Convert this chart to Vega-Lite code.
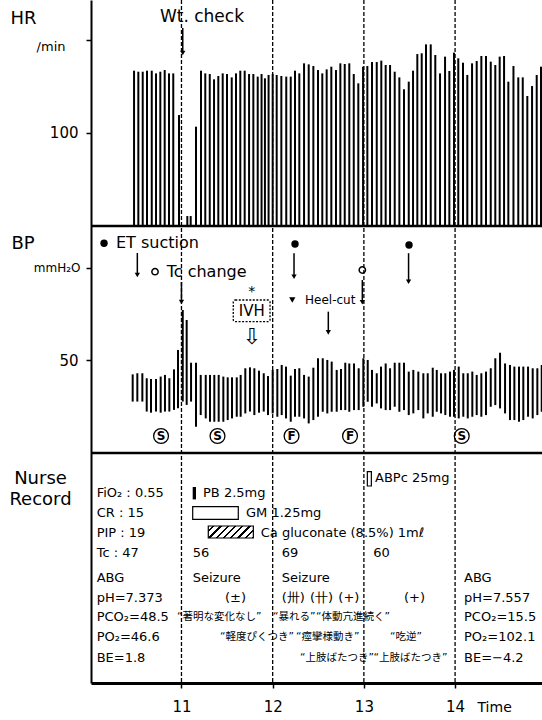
{
"$schema":"https://vega.github.io/schema/vega-lite/v6.json",
"width":451,"height":683,
"autosize":"none",
"padding":{"left":91,"top":0,"right":0,"bottom":37},
"background":"white",
"config":{"view":{"stroke":null},
 "axis":{"grid":false,"domainColor":"black","tickColor":"black","labelColor":"black","titleColor":"black","labelFont":"DejaVu Sans","titleFont":"DejaVu Sans","titleFontWeight":"normal"},
 "text":{"font":"DejaVu Sans","color":"black"},
 "rule":{"color":"black"},"point":{"color":"black"}},
"datasets":{
 "hours":[{"t":11},{"t":12},{"t":13},{"t":14}],
 "sep":[{"t":10.008,"t2":14.953,"v":0}],
 "hr":[{"t":10.480,"v":167.0},{"t":10.527,"v":165.9},{"t":10.575,"v":165.9},{"t":10.622,"v":167.0},{"t":10.674,"v":167.0},{"t":10.721,"v":164.1},{"t":10.768,"v":165.9},{"t":10.816,"v":167.7},{"t":10.863,"v":164.1},{"t":10.910,"v":164.1},{"t":10.973,"v":119.3},{"t":11.064,"v":10.7},{"t":11.101,"v":10.7},{"t":11.159,"v":106.8},{"t":11.214,"v":167.0},{"t":11.261,"v":164.1},{"t":11.310,"v":163.4},{"t":11.357,"v":157.7},{"t":11.404,"v":161.3},{"t":11.452,"v":164.1},{"t":11.499,"v":163.4},{"t":11.551,"v":159.8},{"t":11.598,"v":164.1},{"t":11.645,"v":167.0},{"t":11.693,"v":167.0},{"t":11.741,"v":163.4},{"t":11.788,"v":163.4},{"t":11.836,"v":160.6},{"t":11.878,"v":163.4},{"t":11.915,"v":158.8},{"t":11.955,"v":162.4},{"t":12.000,"v":163.4},{"t":12.044,"v":162.4},{"t":12.095,"v":161.3},{"t":12.149,"v":160.6},{"t":12.198,"v":160.6},{"t":12.245,"v":167.0},{"t":12.292,"v":164.1},{"t":12.344,"v":174.9},{"t":12.395,"v":173.8},{"t":12.446,"v":172.0},{"t":12.497,"v":167.7},{"t":12.544,"v":164.1},{"t":12.592,"v":168.4},{"t":12.643,"v":171.3},{"t":12.694,"v":167.7},{"t":12.742,"v":174.9},{"t":12.790,"v":174.2},{"t":12.840,"v":174.9},{"t":12.889,"v":163.4},{"t":12.939,"v":153.4},{"t":12.991,"v":171.3},{"t":13.038,"v":172.0},{"t":13.089,"v":176.3},{"t":13.141,"v":176.3},{"t":13.191,"v":177.8},{"t":13.239,"v":173.1},{"t":13.287,"v":173.1},{"t":13.338,"v":165.9},{"t":13.389,"v":159.8},{"t":13.440,"v":147.0},{"t":13.492,"v":155.2},{"t":13.539,"v":167.0},{"t":13.586,"v":184.9},{"t":13.634,"v":185.7},{"t":13.681,"v":195.3},{"t":13.733,"v":195.3},{"t":13.783,"v":183.9},{"t":13.835,"v":164.1},{"t":13.890,"v":182.1},{"t":13.937,"v":166.7},{"t":13.988,"v":186.4},{"t":14.035,"v":180.3},{"t":14.087,"v":175.6},{"t":14.134,"v":162.4},{"t":14.186,"v":174.9},{"t":14.237,"v":177.4},{"t":14.288,"v":182.8},{"t":14.339,"v":182.8},{"t":14.391,"v":176.7},{"t":14.441,"v":173.1},{"t":14.489,"v":182.1},{"t":14.537,"v":182.8},{"t":14.584,"v":155.2},{"t":14.640,"v":172.0},{"t":14.693,"v":159.8},{"t":14.742,"v":159.8},{"t":14.792,"v":139.8},{"t":14.844,"v":150.5},{"t":14.895,"v":162.4},{"t":14.942,"v":171.3}],
 "hrNotes":[{"t":11.225,"v":225,"label":"Wt. check"}],
 "hrArrows":[{"t":11.014,"v":212.9,"v2":186}],
 "hrHeads":[{"t":11.014,"v":186}],
 "bp":[{"t":10.465,"v":42.5,"v2":27.8},{"t":10.516,"v":43.1,"v2":27.8},{"t":10.571,"v":43.1,"v2":27.8},{"t":10.619,"v":40.4,"v2":22.4},{"t":10.666,"v":40.0,"v2":21.8},{"t":10.721,"v":40.0,"v2":22.4},{"t":10.772,"v":41.3,"v2":21.8},{"t":10.819,"v":42.2,"v2":22.4},{"t":10.867,"v":40.4,"v2":22.4},{"t":10.918,"v":45.2,"v2":23.3},{"t":10.962,"v":55.7,"v2":24.2},{"t":11.014,"v":77.3,"v2":27.8},{"t":11.057,"v":71.9,"v2":26.0},{"t":11.105,"v":48.8,"v2":27.8},{"t":11.159,"v":48.8,"v2":14.2},{"t":11.211,"v":42.2,"v2":20.5},{"t":11.266,"v":42.2,"v2":18.7},{"t":11.313,"v":42.2,"v2":16.9},{"t":11.360,"v":42.2,"v2":16.9},{"t":11.408,"v":42.2,"v2":16.9},{"t":11.459,"v":41.3,"v2":16.9},{"t":11.507,"v":40.9,"v2":17.8},{"t":11.554,"v":40.9,"v2":18.7},{"t":11.606,"v":40.9,"v2":19.6},{"t":11.649,"v":42.2,"v2":19.6},{"t":11.700,"v":45.8,"v2":21.4},{"t":11.751,"v":46.3,"v2":22.4},{"t":11.799,"v":45.8,"v2":20.5},{"t":11.850,"v":44.5,"v2":21.8},{"t":11.902,"v":43.1,"v2":22.4},{"t":11.949,"v":41.6,"v2":20.5},{"t":12.000,"v":44.9,"v2":21.4},{"t":12.051,"v":45.4,"v2":19.6},{"t":12.099,"v":47.6,"v2":20.5},{"t":12.146,"v":46.7,"v2":18.7},{"t":12.198,"v":41.8,"v2":16.9},{"t":12.245,"v":45.4,"v2":19.6},{"t":12.292,"v":45.8,"v2":19.6},{"t":12.344,"v":42.2,"v2":18.7},{"t":12.395,"v":41.3,"v2":16.0},{"t":12.446,"v":46.1,"v2":17.8},{"t":12.497,"v":51.2,"v2":19.6},{"t":12.549,"v":51.2,"v2":22.3},{"t":12.599,"v":50.3,"v2":21.4},{"t":12.647,"v":49.4,"v2":22.3},{"t":12.702,"v":44.9,"v2":22.3},{"t":12.749,"v":45.4,"v2":23.2},{"t":12.796,"v":48.8,"v2":23.2},{"t":12.840,"v":48.4,"v2":22.3},{"t":12.892,"v":48.4,"v2":23.2},{"t":12.943,"v":45.8,"v2":23.2},{"t":12.994,"v":51.2,"v2":25.0},{"t":13.042,"v":50.3,"v2":27.7},{"t":13.089,"v":44.9,"v2":25.0},{"t":13.141,"v":43.1,"v2":26.8},{"t":13.188,"v":46.7,"v2":24.1},{"t":13.239,"v":48.4,"v2":23.2},{"t":13.287,"v":45.8,"v2":23.2},{"t":13.338,"v":48.8,"v2":25.0},{"t":13.389,"v":48.8,"v2":22.3},{"t":13.440,"v":48.8,"v2":23.2},{"t":13.492,"v":44.0,"v2":20.5},{"t":13.542,"v":44.9,"v2":21.4},{"t":13.597,"v":44.0,"v2":23.2},{"t":13.652,"v":43.1,"v2":18.7},{"t":13.700,"v":43.1,"v2":21.4},{"t":13.755,"v":46.1,"v2":19.6},{"t":13.799,"v":44.9,"v2":22.3},{"t":13.846,"v":43.1,"v2":21.4},{"t":13.893,"v":43.1,"v2":20.5},{"t":13.944,"v":44.0,"v2":19.6},{"t":13.988,"v":44.9,"v2":19.6},{"t":14.040,"v":46.7,"v2":18.7},{"t":14.090,"v":43.1,"v2":19.6},{"t":14.139,"v":43.1,"v2":18.7},{"t":14.189,"v":44.0,"v2":19.6},{"t":14.237,"v":42.2,"v2":20.5},{"t":14.288,"v":43.1,"v2":19.6},{"t":14.339,"v":44.0,"v2":20.5},{"t":14.391,"v":45.8,"v2":25.0},{"t":14.441,"v":51.2,"v2":25.9},{"t":14.493,"v":54.2,"v2":24.1},{"t":14.548,"v":48.4,"v2":21.4},{"t":14.602,"v":47.6,"v2":17.8},{"t":14.650,"v":46.7,"v2":17.8},{"t":14.701,"v":46.7,"v2":16.9},{"t":14.748,"v":46.7,"v2":17.8},{"t":14.800,"v":46.7,"v2":19.6},{"t":14.851,"v":45.8,"v2":18.7},{"t":14.902,"v":45.8,"v2":20.5},{"t":14.950,"v":47.6,"v2":22.3}],
 "bpLabels":[{"t":10.282,"v":113.4,"label":"ET suction"},{"t":10.838,"v":98.0,"label":"Tc change"}],
 "bpSmall":[{"t":12.355,"v":82.7,"label":"Heel-cut"}],
 "ivh":[{"t":11.77,"v":76.8,"label":"IVH"}],
 "star":[{"t":11.77,"v":87.2,"label":"*"}],
 "hollowArrow":[{"t":11.77,"v":62.7,"label":"⇩"}],
 "ivhBox":[{"t":11.568,"t2":11.971,"v":82.7,"v2":71.0}],
 "bpDots":[{"t":10.151,"v":113.4},{"t":12.245,"v":113.0},{"t":13.495,"v":112.4}],
 "bpOpen":[{"t":10.710,"v":98.0},{"t":12.983,"v":98.9}],
 "bpTri":[{"t":12.215,"v":82.7}],
 "bpArrows":[{"t":10.516,"v":108.1,"v2":96.2},{"t":11.0,"v":92.4,"v2":81.6},{"t":12.234,"v":108,"v2":95.3},{"t":12.61,"v":76.4,"v2":65.2},{"t":12.983,"v":93.5,"v2":81.5},{"t":13.49,"v":108,"v2":92.6}],
 "bpHeads":[{"t":10.516,"v":96.2},{"t":11.0,"v":81.6},{"t":12.234,"v":95.3},{"t":12.61,"v":65.2},{"t":12.983,"v":81.5},{"t":13.49,"v":92.6}],
 "circled":[{"t":10.776,"v":9.2,"letter":"S"},{"t":11.395,"v":9.2,"letter":"S"},{"t":12.207,"v":9.2,"letter":"F"},{"t":12.848,"v":9.2,"letter":"F"},{"t":14.073,"v":9.2,"letter":"S"}],
 "nurseText":[
  {"t":10.070,"v":1,"label":"FiO₂ : 0.55"},
  {"t":10.070,"v":2,"label":"CR : 15"},
  {"t":10.070,"v":3,"label":"PIP : 19"},
  {"t":10.070,"v":4,"label":"Tc : 47"},
  {"t":10.070,"v":5.25,"label":"ABG"},
  {"t":10.070,"v":6.25,"label":"pH=7.373"},
  {"t":10.070,"v":7.2,"label":"PCO₂=48.5"},
  {"t":10.070,"v":8.2,"label":"PO₂=46.6"},
  {"t":10.070,"v":9.25,"label":"BE=1.8"},
  {"t":11.236,"v":1,"label":"PB 2.5mg"},
  {"t":11.708,"v":2,"label":"GM 1.25mg"},
  {"t":11.869,"v":3,"label":"Ca gluconate (8.5%) 1mℓ"},
  {"t":11.123,"v":4,"label":"56"},
  {"t":11.123,"v":5.25,"label":"Seizure"},
  {"t":11.477,"v":6.25,"label":"(±)"},
  {"t":12.099,"v":4,"label":"69"},
  {"t":12.099,"v":5.25,"label":"Seizure"},
  {"t":12.099,"v":6.25,"label":"(卅)"},
  {"t":12.409,"v":6.25,"label":"(卄)"},
  {"t":12.720,"v":6.25,"label":"(+)"},
  {"t":13.440,"v":6.25,"label":"(+)"},
  {"t":13.122,"v":0.25,"label":"ABPc 25mg"},
  {"t":13.103,"v":4,"label":"60"},
  {"t":14.098,"v":5.25,"label":"ABG"},
  {"t":14.098,"v":6.25,"label":"pH=7.557"},
  {"t":14.098,"v":7.2,"label":"PCO₂=15.5"},
  {"t":14.098,"v":8.2,"label":"PO₂=102.1"},
  {"t":14.098,"v":9.25,"label":"BE=−4.2"}],
 "nurseJa":[
  {"t":10.951,"v":7.2,"label":"“著明な変化なし”"},
  {"t":12.004,"v":7.2,"label":"“暴れる”"},
  {"t":12.475,"v":7.2,"label":"“体動亢進続く”"},
  {"t":11.422,"v":8.2,"label":"“軽度ぴくつき”"},
  {"t":12.256,"v":8.2,"label":"“痙攣様動き”"},
  {"t":13.287,"v":8.2,"label":"“吃逆”"},
  {"t":12.300,"v":9.25,"label":"“上肢ばたつき”"},
  {"t":13.105,"v":9.25,"label":"“上肢ばたつき”"}],
 "drugFilled":[{"t":11.123,"t2":11.159,"v":0.7,"v2":1.32}],
 "drugOpen":[{"t":11.123,"t2":11.623,"v":1.68,"v2":2.32},{"t":13.038,"t2":13.082,"v":-0.07,"v2":0.65}],
 "drugHatch":[{"t":11.294,"t2":11.788,"v":2.65,"v2":3.25}]
},
"encoding":{"x":{"field":"t","type":"quantitative","title":"Time","scale":{"domain":[10.008,14.953],"nice":false,"zero":false},
 "axis":{"orient":"bottom","values":[11,12,13,14],"domainWidth":3,"tickSize":5,"tickWidth":1.5,"labelFontSize":15,"labelPadding":18,"labelBaseline":"middle","labelFlush":false,"titleX":386,"titleY":24,"titleAlign":"left","titleBaseline":"middle","titleFontSize":14}}},
"layer":[
 {"data":{"name":"hours"},"mark":{"type":"rule","strokeDash":[4,2],"strokeWidth":1.3},"encoding":{}},
 {"encoding":{"y":{"field":"v","type":"quantitative","scale":{"domain":[0,243],"range":[226,0],"nice":false,"zero":false},
   "axis":{"orient":"left","values":[100,200],"title":"HR","titleAngle":0,"titleAlign":"left","titleBaseline":"middle","titleX":-81,"titleY":18,"titleFontSize":18,"domainWidth":2,"tickSize":5,"tickWidth":1.5,
    "labelExpr":"datum.value == 200 ? '/min' : datum.label","labelBaseline":"middle",
    "labelFontSize":{"condition":{"test":"datum.value == 200","value":13},"value":15},
    "labelPadding":{"condition":{"test":"datum.value == 200","value":21},"value":8},
    "labelOffset":{"condition":{"test":"datum.value == 200","value":7},"value":0}}}},
  "layer":[
   {"data":{"name":"hr"},"mark":{"type":"rule","strokeWidth":2},"encoding":{"y2":{"datum":0}}},
   {"data":{"name":"hrNotes"},"mark":{"type":"text","fontSize":17,"align":"center","baseline":"middle"},"encoding":{"text":{"field":"label"}}},
   {"data":{"name":"hrArrows"},"mark":{"type":"rule","strokeWidth":1.5},"encoding":{"y2":{"field":"v2"}}},
   {"data":{"name":"hrHeads"},"mark":{"type":"point","shape":"triangle-down","filled":true,"size":28,"opacity":1}},
   {"data":{"name":"sep"},"mark":{"type":"rule","strokeWidth":2.5},"encoding":{"x2":{"field":"t2"}}}
  ]},
 {"encoding":{"y":{"field":"v","type":"quantitative","scale":{"domain":[0,122.7],"range":[453,226],"nice":false,"zero":false},
   "axis":{"orient":"left","values":[50,100],"title":"BP","titleAngle":0,"titleAlign":"left","titleBaseline":"middle","titleX":-80,"titleY":243,"titleFontSize":18,"domainWidth":2,"tickSize":5,"tickWidth":1.5,
    "labelExpr":"datum.value == 100 ? 'mmH₂O' : datum.label","labelBaseline":"middle",
    "labelFontSize":{"condition":{"test":"datum.value == 100","value":12},"value":15},
    "labelPadding":{"condition":{"test":"datum.value == 100","value":6},"value":8}}}},
  "layer":[
   {"data":{"name":"bp"},"mark":{"type":"rule","strokeWidth":2},"encoding":{"y2":{"field":"v2"}}},
   {"data":{"name":"bpArrows"},"mark":{"type":"rule","strokeWidth":1.5},"encoding":{"y2":{"field":"v2"}}},
   {"data":{"name":"bpHeads"},"mark":{"type":"point","shape":"triangle-down","filled":true,"size":28,"opacity":1}},
   {"data":{"name":"bpDots"},"mark":{"type":"point","shape":"circle","filled":true,"size":55,"opacity":1}},
   {"data":{"name":"bpOpen"},"mark":{"type":"point","shape":"circle","filled":false,"size":40,"strokeWidth":1.5,"opacity":1}},
   {"data":{"name":"bpTri"},"mark":{"type":"point","shape":"triangle-down","filled":true,"size":40,"opacity":1}},
   {"data":{"name":"bpLabels"},"mark":{"type":"text","fontSize":16,"align":"left","baseline":"middle"},"encoding":{"text":{"field":"label"}}},
   {"data":{"name":"bpSmall"},"mark":{"type":"text","fontSize":12,"align":"left","baseline":"middle"},"encoding":{"text":{"field":"label"}}},
   {"data":{"name":"ivhBox"},"mark":{"type":"rect","fill":"white","stroke":"black","strokeWidth":1.3,"strokeDash":[2,1.5],"cornerRadius":2},"encoding":{"x2":{"field":"t2"},"y2":{"field":"v2"}}},
   {"data":{"name":"ivh"},"mark":{"type":"text","fontSize":15,"align":"center","baseline":"middle"},"encoding":{"text":{"field":"label"}}},
   {"data":{"name":"star"},"mark":{"type":"text","fontSize":14,"align":"center","baseline":"middle"},"encoding":{"text":{"field":"label"}}},
   {"data":{"name":"hollowArrow"},"mark":{"type":"text","fontSize":22,"align":"center","baseline":"middle"},"encoding":{"text":{"field":"label"}}},
   {"data":{"name":"circled"},"mark":{"type":"point","shape":"circle","filled":false,"size":220,"strokeWidth":1.3,"opacity":1}},
   {"data":{"name":"circled"},"mark":{"type":"text","fontSize":12,"fontWeight":"bold","align":"center","baseline":"middle"},"encoding":{"text":{"field":"letter"}}},
   {"data":{"name":"sep"},"mark":{"type":"rule","strokeWidth":2.5},"encoding":{"x2":{"field":"t2"}}}
  ]},
 {"encoding":{"y":{"field":"v","type":"quantitative","scale":{"domain":[-1,10.5],"range":[453,683],"nice":false,"zero":false},
   "axis":{"orient":"left","ticks":false,"labels":false,"title":["Nurse","Record"],"titleAngle":0,"titleAlign":"center","titleBaseline":"middle","titleX":-51,"titleY":478,"titleFontSize":18,"titleLineHeight":21,"domainWidth":2}}},
  "layer":[
   {"data":{"name":"drugFilled"},"mark":{"type":"rect","fill":"black"},"encoding":{"x2":{"field":"t2"},"y2":{"field":"v2"}}},
   {"data":{"name":"drugOpen"},"mark":{"type":"rect","fill":"white","stroke":"black","strokeWidth":1.2},"encoding":{"x2":{"field":"t2"},"y2":{"field":"v2"}}},
   {"data":{"name":"drugHatch"},"mark":{"type":"rect","stroke":"black","strokeWidth":1.2,
     "fill":{"gradient":"linear","x1":0,"y1":0,"x2":1.2,"y2":0.32,"stops":[
      {"offset":0,"color":"white"},
      {"offset":0.075,"color":"white"},{"offset":0.075,"color":"black"},{"offset":0.115,"color":"black"},{"offset":0.115,"color":"white"},
      {"offset":0.2,"color":"white"},{"offset":0.2,"color":"black"},{"offset":0.24,"color":"black"},{"offset":0.24,"color":"white"},
      {"offset":0.325,"color":"white"},{"offset":0.325,"color":"black"},{"offset":0.365,"color":"black"},{"offset":0.365,"color":"white"},
      {"offset":0.45,"color":"white"},{"offset":0.45,"color":"black"},{"offset":0.49,"color":"black"},{"offset":0.49,"color":"white"},
      {"offset":0.575,"color":"white"},{"offset":0.575,"color":"black"},{"offset":0.615,"color":"black"},{"offset":0.615,"color":"white"},
      {"offset":0.7,"color":"white"},{"offset":0.7,"color":"black"},{"offset":0.74,"color":"black"},{"offset":0.74,"color":"white"},
      {"offset":0.825,"color":"white"},{"offset":0.825,"color":"black"},{"offset":0.865,"color":"black"},{"offset":0.865,"color":"white"},
      {"offset":0.95,"color":"white"},{"offset":0.95,"color":"black"},{"offset":0.99,"color":"black"},{"offset":0.99,"color":"white"},
      {"offset":1,"color":"white"}]}},
    "encoding":{"x2":{"field":"t2"},"y2":{"field":"v2"}}},
   {"data":{"name":"nurseText"},"mark":{"type":"text","fontSize":13,"align":"left","baseline":"middle"},"encoding":{"text":{"field":"label"}}},
   {"data":{"name":"nurseJa"},"mark":{"type":"text","fontSize":10.5,"align":"left","baseline":"middle","font":"DejaVu Sans, Noto Sans CJK JP"},"encoding":{"text":{"field":"label"}}}
  ]}
],
"resolve":{"scale":{"y":"independent"},"axis":{"y":"independent"}}
}
